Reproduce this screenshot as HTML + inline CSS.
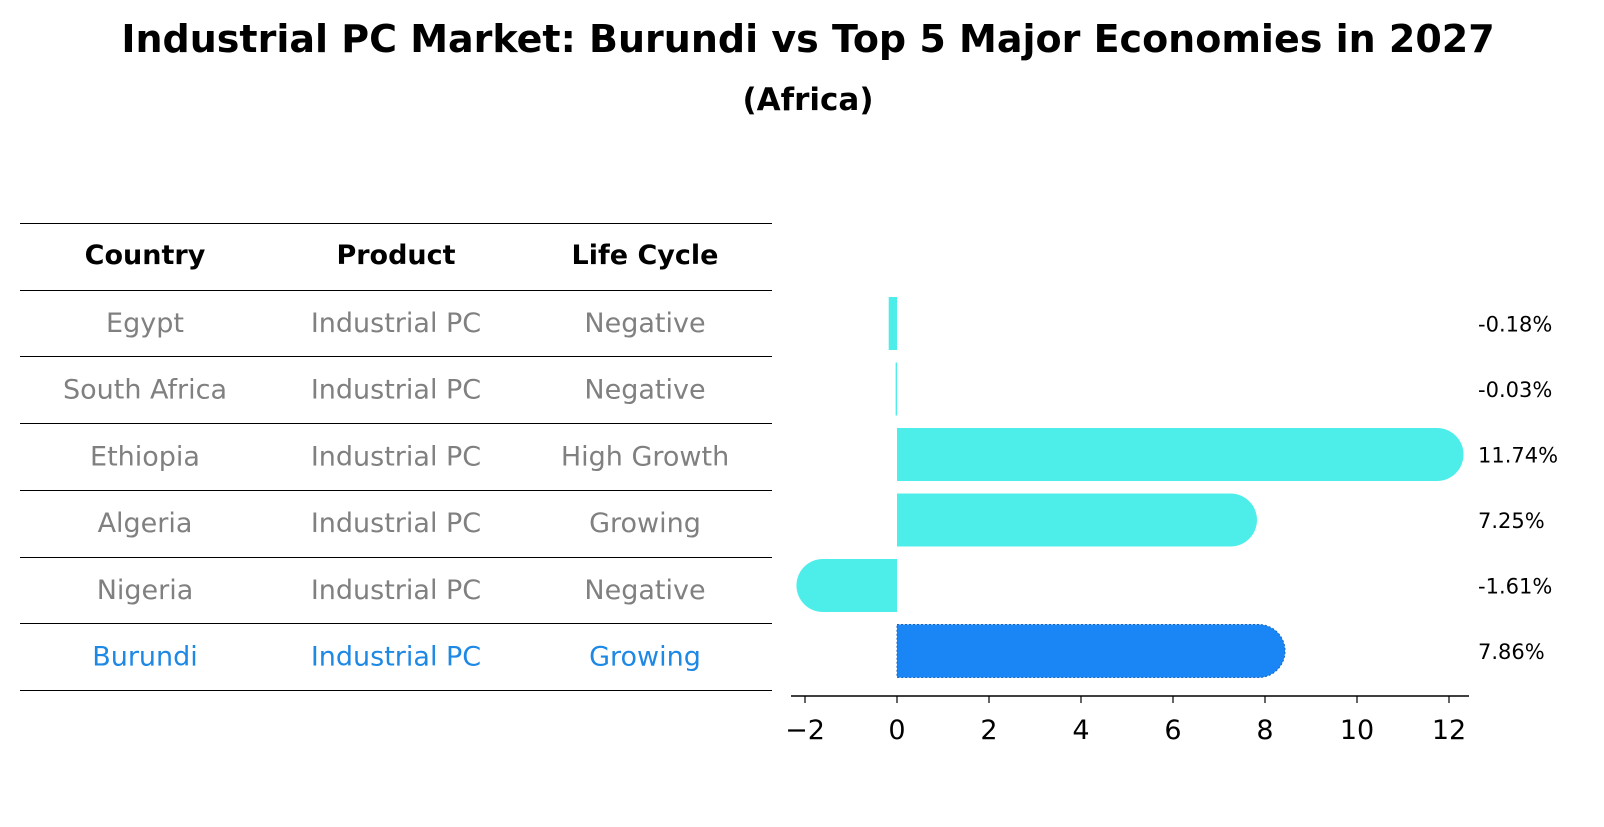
<!DOCTYPE html>
<html><head><meta charset="utf-8"><style>
body{margin:0;background:#fff;font-family:"DejaVu Sans","Liberation Sans",sans-serif;}
svg text{font-family:"DejaVu Sans","Liberation Sans",sans-serif;}
</style></head><body>
<svg id="c" width="1604" height="823" xmlns="http://www.w3.org/2000/svg">
<text x="808" y="52" text-anchor="middle" font-size="38" font-weight="bold">Industrial PC Market: Burundi vs Top 5 Major Economies in 2027</text>
<text x="808" y="110" text-anchor="middle" font-size="31" font-weight="bold">(Africa)</text>
<g id="tbl"></g>
<g id="bars"></g>
</svg>
<script>
const countries=["Egypt","South Africa","Ethiopia","Algeria","Nigeria","Burundi"];
const products=["Industrial PC","Industrial PC","Industrial PC","Industrial PC","Industrial PC","Industrial PC"];
const lifeCycles=["Negative","Negative","High Growth","Growing","Negative","Growing"];
const values=[-0.18,-0.03,11.74,7.25,-1.61,7.86];
const ticks=[-2,0,2,4,6,8,10,12];
const NS="http://www.w3.org/2000/svg";
function mk(t,a,p){const e=document.createElementNS(NS,t);for(const k in a)e.setAttribute(k,a[k]);p.appendChild(e);return e;}
const tbl=document.getElementById('tbl');
const lineYs=[223.5,290.5,356.5,423.5,490.5,557.5,623.5,690.5];
lineYs.forEach((y,i)=>{const l=mk('line',{x1:20,x2:772,y1:y,y2:y,stroke:'#000','stroke-width':1},tbl);

});
const colX=[145,396,645];
["Country","Product","Life Cycle"].forEach((h,i)=>{const t=mk('text',{x:colX[i],y:264,'text-anchor':'middle','font-size':27,'font-weight':'bold'},tbl);t.textContent=h;

});
countries.forEach((c,r)=>{const y=332+r*66.7;const col=c==="Burundi"?"#1E88E5":"#808080";
[c,products[r],lifeCycles[r]].forEach((v,i)=>{const t=mk('text',{x:colX[i],y:y,'text-anchor':'middle','font-size':27,fill:col},tbl);t.textContent=v;

});});
const bars=document.getElementById('bars');
const x0=897,ppu=46;const X=v=>x0+v*ppu;
const Y=i=>323.5+i*65.5;const h=53,r=26.5;
values.forEach((v,i)=>{const cy=Y(i);const xe=X(v);const col=countries[i]==="Burundi"?"#1A86F5":"#4DEEEA";
let d;
if(Math.abs(v)<0.5){const a=Math.min(x0,xe),b=Math.max(x0,xe);d=`M${a},${cy-h/2}H${b}V${cy+h/2}H${a}Z`;}
else if(v>0){d=`M${x0},${cy-h/2}H${xe}A${r},${r} 0 0 1 ${xe},${cy+h/2}H${x0}Z`;}
else{d=`M${x0},${cy-h/2}H${xe}A${r},${r} 0 0 0 ${xe},${cy+h/2}H${x0}Z`;}
const p=mk('path',{d:d,fill:col},bars);
if(countries[i]==="Burundi"){p.setAttribute('stroke','#1565C0');p.setAttribute('stroke-dasharray','2,2');p.setAttribute('stroke-width','1');}


const t=mk('text',{x:1478,y:cy+8,'font-size':21},bars);t.textContent=v.toFixed(2)+'%';

});
const ax=mk('line',{x1:791,x2:1469,y1:696,y2:696,stroke:'#000','stroke-width':1.5},bars);


ticks.forEach(t=>{const tk=mk('line',{x1:X(t),x2:X(t),y1:696,y2:703,stroke:'#000','stroke-width':1.2},bars);


const l=mk('text',{x:X(t),y:739,'text-anchor':'middle','font-size':27},bars);l.textContent=t<0?'\u2212'+(-t):t;

});
</script>
</body></html>
